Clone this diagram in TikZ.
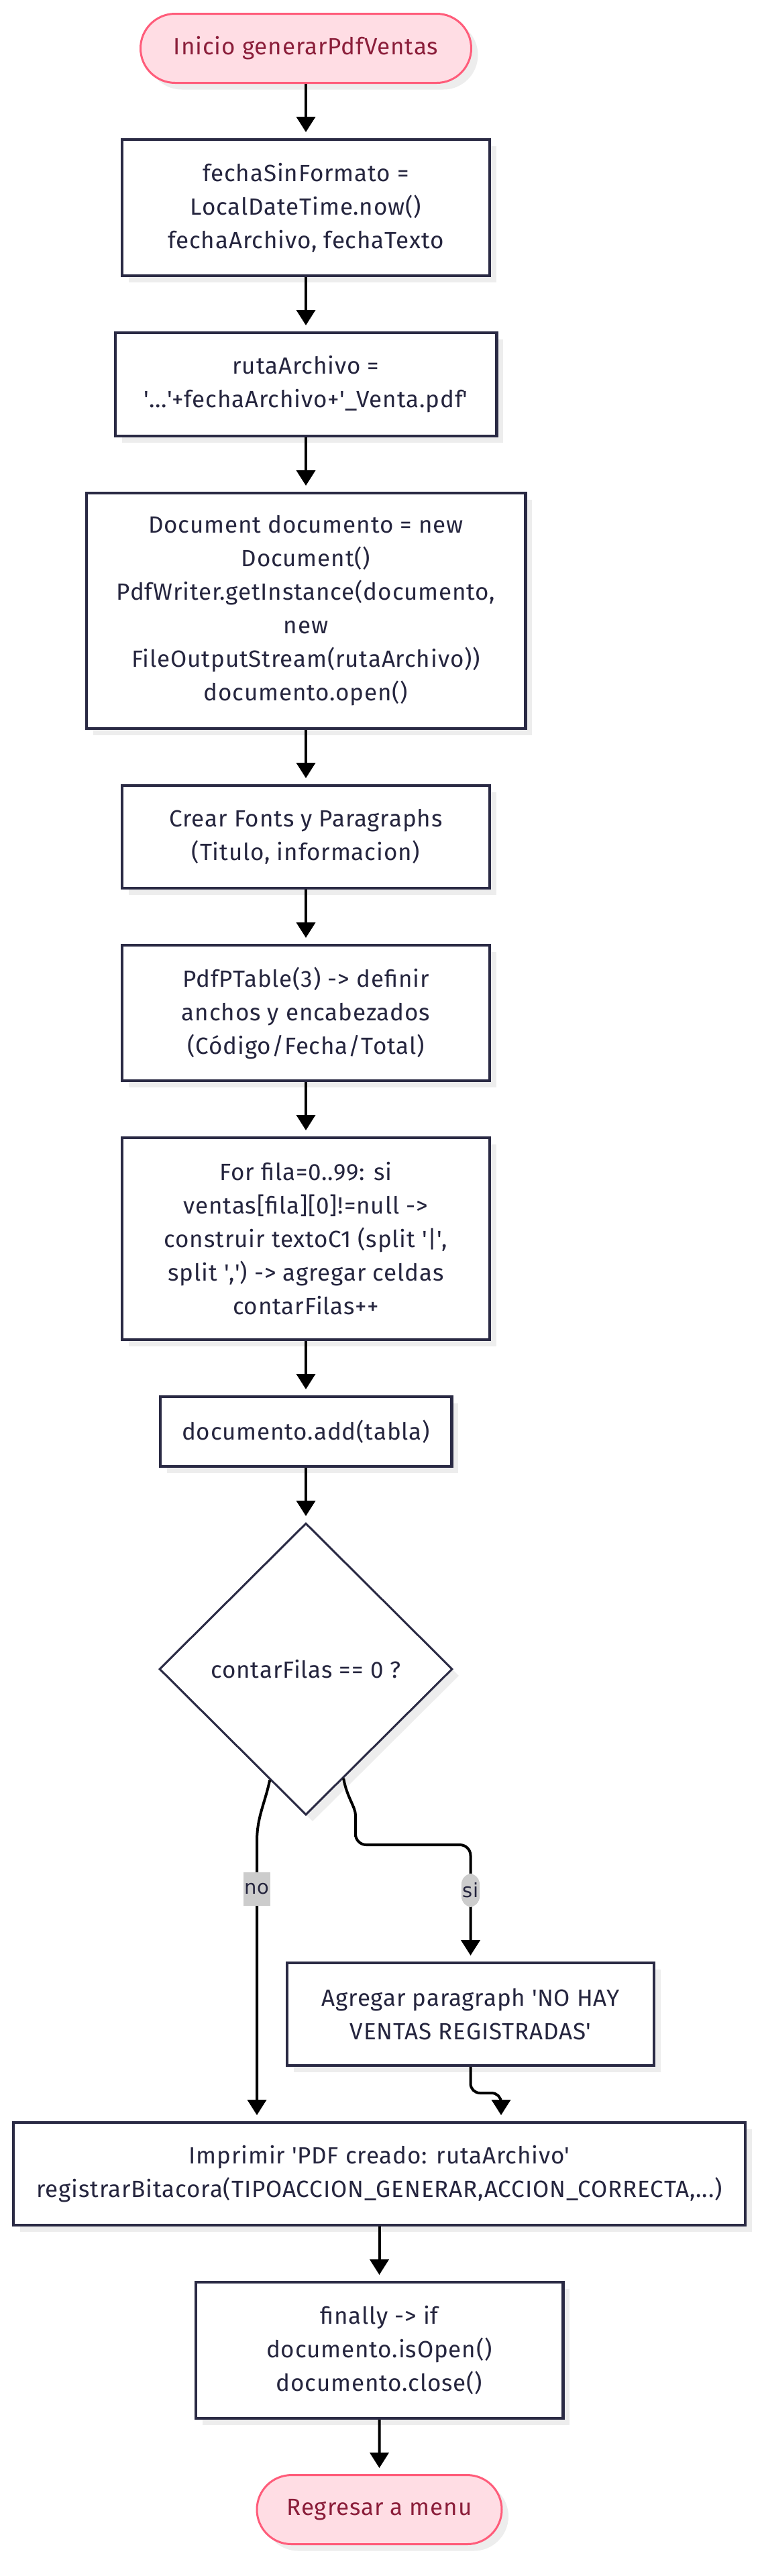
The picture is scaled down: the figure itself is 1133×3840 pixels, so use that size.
\documentclass[tikz,border=0pt]{standalone}
\usepackage{fontspec}
\setmainfont{Fira Sans}[LetterSpace=2.5]
\newfontfamily\lblfont{DejaVu Sans}
\usepackage{tikz}
\usetikzlibrary{arrows.meta,positioning}
\usetikzlibrary{shapes.geometric,shapes.misc,shadows}
\definecolor{borde}{HTML}{2A2A44}
\definecolor{texto}{HTML}{25253E}
\definecolor{rosa}{HTML}{FFDDE4}
\definecolor{rosaborde}{HTML}{FF5C7A}
\definecolor{rosatexto}{HTML}{8B1E3A}
\definecolor{gris}{HTML}{CCCCCC}
\newcommand{\sq}{\textquotesingle}

\begin{document}
\begin{tikzpicture}[x=0.5pt,y=-0.5pt,->,>={Triangle[length=11.5pt,width=14pt]},
                    shorten >=4.5pt,node distance=40.5pt,line width=2pt,
                    font=\fontsize{17.5}{25}\selectfont]
  \tikzstyle{proceso}=[rectangle,draw=borde,line width=2.2pt,fill=white,text=texto,
                       align=center,inner sep=0pt,minimum width=273.8pt,
                       drop shadow={shadow xshift=5pt,shadow yshift=-5pt,fill=black!7,opacity=1}]
  \tikzstyle{terminal}=[rounded rectangle,draw=rosaborde,line width=1.5pt,fill=rosa,
                        text=rosatexto,inner sep=0pt,minimum height=51.5pt,
                        drop shadow={shadow xshift=5pt,shadow yshift=-5pt,fill=black!7,opacity=1}]
  \tikzstyle{decision}=[diamond,aspect=1,draw=borde,line width=1.5pt,fill=white,text=texto,
                        inner sep=0pt,minimum width=218.5pt,minimum height=217.5pt,
                        drop shadow={shadow xshift=5pt,shadow yshift=-5pt,fill=black!7,opacity=1}]
  \tikzstyle{etiqueta}=[fill=gris,text=texto,font=\lblfont\fontsize{14.5}{25}\selectfont,
                        inner xsep=1pt,inner ysep=0pt,minimum height=25pt]

  \useasboundingbox (0,0) rectangle (1133,3840);

  \node[terminal,minimum width=246.5pt] (ini) at (456,72) {Inicio generarPdfVentas};
  \node[proceso,minimum height=101.3pt] (fecha) [below=of ini]
       {fechaSinFormato =\\LocalDateTime.now()\\fechaArchivo, fechaTexto};
  \node[proceso,minimum width=284.3pt,minimum height=76.8pt] (ruta) [below=of fecha]
       {rutaArchivo =\\\sq...\sq+fechaArchivo+\sq\_Venta.pdf\sq};
  \node[proceso,minimum width=327.3pt,minimum height=175.3pt] (doc) [below=of ruta]
       {Document documento = new\\Document()\\PdfWriter.getInstance(documento,\\new\\FileOutputStream(rutaArchivo))\\documento.open()};
  \node[proceso,minimum height=76.3pt] (fonts) [below=of doc]
       {Crear Fonts y Paragraphs\\(Titulo, informacion)};
  \node[proceso,minimum height=100.8pt] (tabla) [below=of fonts]
       {PdfPTable(3) -> definir\\anchos y encabezados\\(Código/Fecha/Total)};
  \node[proceso,minimum height=150.3pt] (bucle) [below=of tabla]
       {For fila=0..99: si\\ventas[fila][0]!=null ->\\construir textoC1 (split \sq|\sq,\\split \sq,\sq) -> agregar celdas\\contarFilas++};
  \node[proceso,minimum width=217.3pt,minimum height=51.8pt] (add) [below=of bucle]
       {documento.add(tabla)};
  \node[decision] (filas) [below=of add] {contarFilas == 0 ?};
  \node[proceso,minimum width=273.3pt,minimum height=76.3pt] (vacio) at (701.5,3002.5)
       {Agregar paragraph \sq NO HAY\\VENTAS REGISTRADAS\sq};
  \node[proceso,minimum width=545.3pt,minimum height=76.3pt] (imp) at (565.5,3240.5)
       {Imprimir \sq PDF creado: rutaArchivo\sq\\registrarBitacora(TIPOACCION\_GENERAR,ACCION\_CORRECTA,...)};
  \node[proceso,minimum height=101.3pt] (cierre) [below=of imp]
       {finally -> if\\documento.isOpen()\\documento.close()};
  \node[terminal,minimum width=182.5pt] (fin) [below=of cierre] {Regresar a menu};

  \path (ini)    edge (fecha)
        (fecha)  edge (ruta)
        (ruta)   edge (doc)
        (doc)    edge (fonts)
        (fonts)  edge (tabla)
        (tabla)  edge (bucle)
        (bucle)  edge (add)
        (add)    edge (filas)
        (imp)    edge (cierre)
        (cierre) edge (fin);

  % ramas de la decision
  \coordinate (nocurva) at (383,2745);
  \coordinate (sicurva) at (530,2722);
  \coordinate (vaciobaja) at (701.5,3120);
  \coordinate (vaciogira) at (747,3120);
  \draw (filas.-108) to[out=-102,in=90] (nocurva)
        -- node[etiqueta,pos=0.17] {no} (nocurva |- imp.north);
  \draw[rounded corners=8pt] (filas.-71) to[out=-80,in=90] (sicurva) -- (530,2750)
        -- (701.5,2750) -- node[etiqueta,pos=0.39] {si} (vacio.north);
  \draw[rounded corners=7pt] (vacio.south) -- (vaciobaja) -- (vaciogira)
        -- (vaciogira |- imp.north);
\end{tikzpicture}
\end{document}
